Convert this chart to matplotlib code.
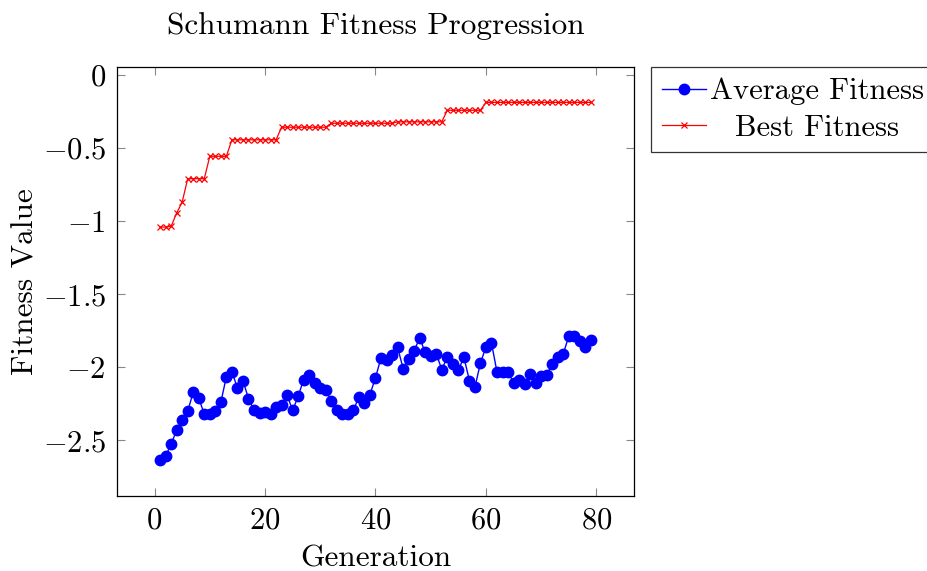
import matplotlib
matplotlib.use("Agg")
import matplotlib.pyplot as plt
from matplotlib.ticker import FixedFormatter

plt.rcParams['font.family'] = ['cmr10', 'DejaVu Serif']
plt.rcParams['mathtext.fontset'] = 'cm'
plt.rcParams['axes.formatter.use_mathtext'] = True
plt.rcParams['axes.unicode_minus'] = True

generations = list(range(1, 80))

avg_fitness = [
    -2.635, -2.607, -2.525, -2.43, -2.357, -2.30, -2.17, -2.21, -2.32, -2.32,
    -2.30, -2.24, -2.063, -2.03, -2.14, -2.09, -2.213, -2.293, -2.31, -2.307,
    -2.316, -2.27, -2.26, -2.19, -2.295, -2.197, -2.083, -2.05, -2.106, -2.14,
    -2.156, -2.23, -2.293, -2.316, -2.32, -2.295, -2.20, -2.243, -2.186, -2.07,
    -1.935, -1.95, -1.913, -1.863, -2.008, -1.942, -1.885, -1.80, -1.897, -1.92,
    -1.906, -2.015, -1.93, -1.976, -2.02, -1.93, -2.09, -2.136, -1.97, -1.86,
    -1.833, -2.033, -2.03, -2.03, -2.106, -2.083, -2.117, -2.042, -2.11, -2.06,
    -2.05, -1.98, -1.93, -1.906, -1.787, -1.787, -1.82, -1.86, -1.815,
]

best_fitness = (
    [-1.04, -1.04, -1.035, -0.944, -0.869]
    + [-0.709] * 4
    + [-0.556] * 4
    + [-0.443] * 9
    + [-0.357] * 9
    + [-0.330] * 12
    + [-0.320] * 9
    + [-0.241] * 7
    + [-0.187] * 20
)

title = "Schumann Fitness Progression"
xlabel = "Generation"
ylabel = "Fitness Value"
xticks = [0, 20, 40, 60, 80]
xticklabels = ["$0$", "$20$", "$40$", "$60$", "$80$"]
yticks = [0, -0.5, -1, -1.5, -2, -2.5]
yticklabels = ["$0$", "$-0.5$", "$-1$", "$-1.5$", "$-2$", "$-2.5$"]

fig = plt.figure(figsize=(9.28, 5.71), dpi=100)
ax = fig.add_axes([117 / 928, 1 - 496 / 571, (634 - 117) / 928, (496 - 67) / 571])

ax.plot(generations, avg_fitness, color='#0000ff', lw=1.0, marker='o',
        markersize=7.5, label='Average Fitness', zorder=3)
ax.plot(generations, best_fitness, color='#ff0000', lw=0.9, marker='x',
        markersize=5, markeredgewidth=0.9, label='Best Fitness', zorder=3)

ax.set_xlim(-6.8, 86.8)
ax.set_ylim(-2.88, 0.055)
ax.set_xticks(xticks)
ax.xaxis.set_major_formatter(FixedFormatter(xticklabels))
ax.set_yticks(yticks)
ax.yaxis.set_major_formatter(FixedFormatter(yticklabels))
ax.tick_params(direction='in', length=6, width=0.8, color='#888888',
               labelsize=22, top=True, right=True, pad=8)
for s in ax.spines.values():
    s.set_linewidth(0.9)

ax.set_title(title, fontsize=22.5, pad=24)
ax.set_xlabel(xlabel, fontsize=22.5, labelpad=7)
ax.set_ylabel(ylabel, fontsize=22.5, labelpad=2)

leg = ax.legend(loc='upper left', bbox_to_anchor=(1.033, 1.0), fontsize=22,
                frameon=True, fancybox=False, edgecolor='black',
                borderaxespad=0, handlelength=1.45, handletextpad=0.12,
                borderpad=0.35, labelspacing=0.3)
leg.get_frame().set_linewidth(0.9)
leg.texts[1].set_position((25, 0))

fig.savefig("out.png", dpi=100)
